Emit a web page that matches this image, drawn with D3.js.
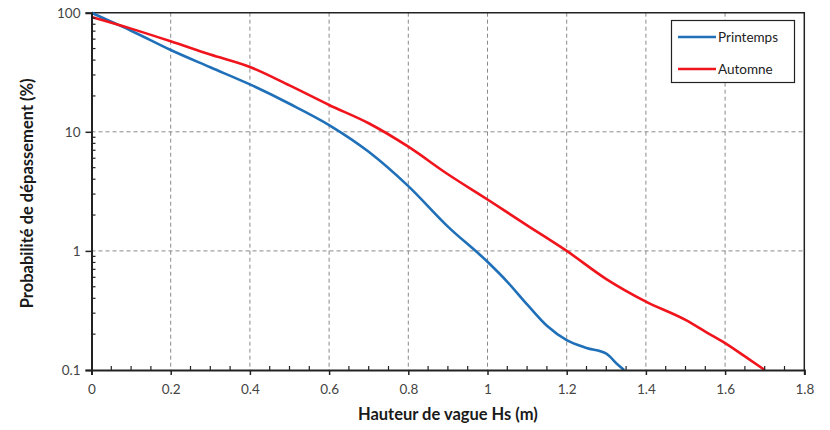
<!DOCTYPE html>
<html>
<head>
<meta charset="utf-8">
<script src="https://cdn.jsdelivr.net/npm/d3@7"></script>
<style>
  body { margin: 0; background: #fff; }
  svg { display: block; font-family: Lato, "Open Sans", sans-serif; }
</style>
</head>
<body>
<svg id="chart" width="830" height="430"></svg>
<script>
// data
var hsSpring = [0, 0.05, 0.1, 0.2, 0.3, 0.4, 0.5, 0.6, 0.7, 0.8, 0.9, 1.0, 1.05, 1.1, 1.15, 1.2, 1.25, 1.3, 1.33, 1.345];
var probSpring = [100, 84, 70.6, 48.6, 34.8, 25, 17.2, 11.4, 6.8, 3.5, 1.6, 0.81, 0.55, 0.355, 0.235, 0.178, 0.153, 0.137, 0.11, 0.1];

var hsAutumn = [0, 0.1, 0.2, 0.3, 0.4, 0.5, 0.6, 0.7, 0.8, 0.9, 1.0, 1.1, 1.2, 1.3, 1.4, 1.5, 1.55, 1.6, 1.65, 1.7];
var probAutumn = [92, 73.5, 57.5, 44.5, 35, 24.5, 16.8, 11.8, 7.5, 4.4, 2.7, 1.64, 1.0, 0.58, 0.375, 0.263, 0.21, 0.168, 0.13, 0.1];

var xTicks = [0, 0.2, 0.4, 0.6, 0.8, 1, 1.2, 1.4, 1.6, 1.8];
var yTicks = [0.1, 1, 10, 100];
var seriesNames = ['Printemps', 'Automne'];
var seriesColors = ['#1f70b8', '#f0141c'];

var svg = d3.select('#chart');
var plotLeft = 91.5, plotRight = 804.3, plotTop = 12.7, plotBottom = 370;

var x = d3.scaleLinear().domain([0, 1.8]).range([plotLeft, plotRight]);
var y = d3.scaleLog().domain([0.1, 100]).range([plotBottom, plotTop]);

// grid lines
var grid = svg.append('g').attr('stroke', '#8a8a8a').attr('stroke-width', 1).attr('stroke-dasharray', '4,3');
xTicks.slice(1, -1).forEach(function (t) {
  grid.append('line').attr('x1', x(t)).attr('x2', x(t)).attr('y1', plotTop).attr('y2', plotBottom);
});
yTicks.slice(1, -1).forEach(function (t) {
  grid.append('line').attr('x1', plotLeft).attr('x2', plotRight).attr('y1', y(t)).attr('y2', y(t));
});

// frame (top and right)
svg.append('path')
  .attr('d', 'M' + plotLeft + ',' + plotTop + 'H' + plotRight + 'V' + plotBottom)
  .attr('fill', 'none').attr('stroke', '#222').attr('stroke-width', 1.5);

// series
var line = d3.line()
  .x(function (d) { return x(d[0]); })
  .y(function (d) { return y(d[1]); })
  .curve(d3.curveMonotoneX);

var series = [d3.zip(hsSpring, probSpring), d3.zip(hsAutumn, probAutumn)];
series.forEach(function (s, i) {
  svg.append('path')
    .datum(s)
    .attr('d', line)
    .attr('fill', 'none')
    .attr('stroke', seriesColors[i])
    .attr('stroke-width', 2.6)
    .attr('stroke-linejoin', 'round');
});

// minor ticks
var minorX = d3.range(0.05, 1.8, 0.05).filter(function (v) { return Math.abs(v * 5 - Math.round(v * 5)) > 1e-6; });
var minorY = [];
[0.1, 1, 10].forEach(function (d) { for (var k = 2; k <= 9; k++) minorY.push(d * k); });
var minor = svg.append('g').attr('stroke', '#222').attr('stroke-width', 1.2);
minorX.forEach(function (v) {
  minor.append('line').attr('x1', x(v)).attr('x2', x(v)).attr('y1', plotBottom - 4).attr('y2', plotBottom);
});
minorY.forEach(function (v) {
  minor.append('line').attr('x1', plotLeft).attr('x2', plotLeft + 4).attr('y1', y(v)).attr('y2', y(v));
});

// axes
var xAxis = svg.append('g')
  .attr('transform', 'translate(0,' + plotBottom + ')')
  .call(d3.axisBottom(x).tickValues(xTicks).tickSize(5).tickPadding(9).tickFormat(d3.format('')));
var yAxis = svg.append('g')
  .attr('transform', 'translate(' + plotLeft + ',0)')
  .call(d3.axisLeft(y).tickValues(yTicks).tickSize(6).tickPadding(5).tickFormat(function (d) { return d < 1 ? d.toFixed(1) : d; }));

[xAxis, yAxis].forEach(function (a) {
  a.select('.domain').attr('stroke', '#222').attr('stroke-width', 2);
  a.selectAll('.tick line').attr('stroke', '#222').attr('stroke-width', 1.5);
  a.selectAll('.tick text').attr('fill', '#444').style('font-size', '13.5px').style('font-family', 'Lato, "Open Sans", sans-serif');
});

// axis titles
svg.append('text')
  .attr('x', (plotLeft + plotRight) / 2).attr('y', 420)
  .attr('text-anchor', 'middle')
  .attr('font-weight', 'bold').attr('font-size', 16.5).attr('fill', '#1a1a1a')
  .text('Hauteur de vague Hs (m)');
svg.append('text')
  .attr('transform', 'translate(33,' + ((plotTop + plotBottom) / 2 + 2) + ') rotate(-90)')
  .attr('text-anchor', 'middle')
  .attr('font-weight', 'bold').attr('font-size', 16.5).attr('fill', '#1a1a1a')
  .text('Probabilité de dépassement (%)');

// legend
var legend = svg.append('g');
legend.append('rect')
  .attr('x', 671.5).attr('y', 20.5).attr('width', 123).attr('height', 62)
  .attr('fill', '#fff').attr('stroke', '#222').attr('stroke-width', 1.2);
seriesNames.forEach(function (name, i) {
  var ly = 37 + i * 32;
  legend.append('line')
    .attr('x1', 678).attr('x2', 716).attr('y1', ly).attr('y2', ly)
    .attr('stroke', seriesColors[i]).attr('stroke-width', 2.6);
  legend.append('text')
    .attr('x', 718).attr('y', ly + 4.5)
    .attr('font-size', 13.5).attr('fill', '#222')
    .text(name);
});
</script>
</body>
</html>
